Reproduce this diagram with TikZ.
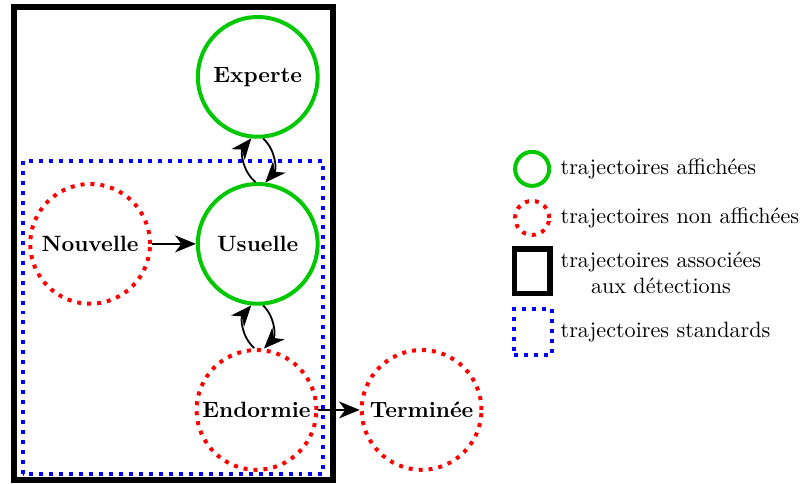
\documentclass[tikz,border=0pt]{standalone}
\usepackage{tikz}
\usetikzlibrary{arrows.meta}
\definecolor{vert}{RGB}{0,200,0}

\begin{document}
\begin{tikzpicture}[>={Stealth[length=3.3mm,width=2.7mm,inset=1mm]},
    shown/.style={circle, draw=vert, line width=1.8pt, minimum size=1.9cm, inner sep=0pt, font=\bfseries},
    hidden/.style={circle, draw=red, line width=1.8pt, dash pattern=on 1.8pt off 2.7pt, minimum size=1.9cm, inner sep=0pt, font=\bfseries},
    assoc/.style={draw=black, line width=2.4pt},
    standard/.style={draw=blue, line width=1.8pt, dash pattern=on 1.8pt off 2.7pt},
    legend/.style={anchor=west, inner sep=0pt, align=center},
    link/.style={->, thick}]

    \useasboundingbox (0, 0) rectangle (12.79, 7.68);

    % cadres
    \draw [assoc] (0.222, 0.063) rectangle (5.286, 7.571);
    \draw [standard] (0.365, 0.159) rectangle (5.127, 5.127);

    % etats
    \node [shown] (e) at (4.09, 6.46) {Experte};
    \node [shown] (u) at (4.09, 3.81) {Usuelle};
    \node [hidden] (n) at (1.43, 3.81) {Nouvelle};
    \node [hidden] (d) at (4.07, 1.175) {Endormie};
    \node [hidden] (t) at (6.69, 1.175) {Terminée};

    \draw [link] (n) -- (u);
    \draw [link] (d) -- (t);
    \draw [link] (u.92) to [bend left=45] (e.264);
    \draw [link] (e.275) to [bend left=45] (u.83);
    \draw [link] (d.92) to [bend left=45] (u.264);
    \draw [link] (u.275) to [bend left=45] (d.83);

    % legende
    \node [circle, draw=vert, line width=1.8pt, minimum size=0.54cm, inner sep=0pt] (la) at (8.444, 5.0) {};
    \node [circle, draw=red, line width=1.8pt, dash pattern=on 1.8pt off 2.7pt, minimum size=0.54cm, inner sep=0pt] (lb) at (8.444, 4.222) {};
    \node [assoc, minimum width=0.57cm, minimum height=0.71cm, inner sep=0pt] (lc) at (8.444, 3.373) {};
    \node [standard, minimum width=0.6cm, minimum height=0.73cm, inner sep=0pt] (ld) at (8.46, 2.41) {};
    \node [legend] (ta) at (8.89, 5.0) {trajectoires affichées};
    \node [legend] (tb) at (8.89, 4.222) {trajectoires non affichées};
    \node [legend] (tc) at (8.89, 3.35) {trajectoires associées\\aux détections};
    \node [legend] (td) at (8.89, 2.41) {trajectoires standards};

\end{tikzpicture}
\end{document}
